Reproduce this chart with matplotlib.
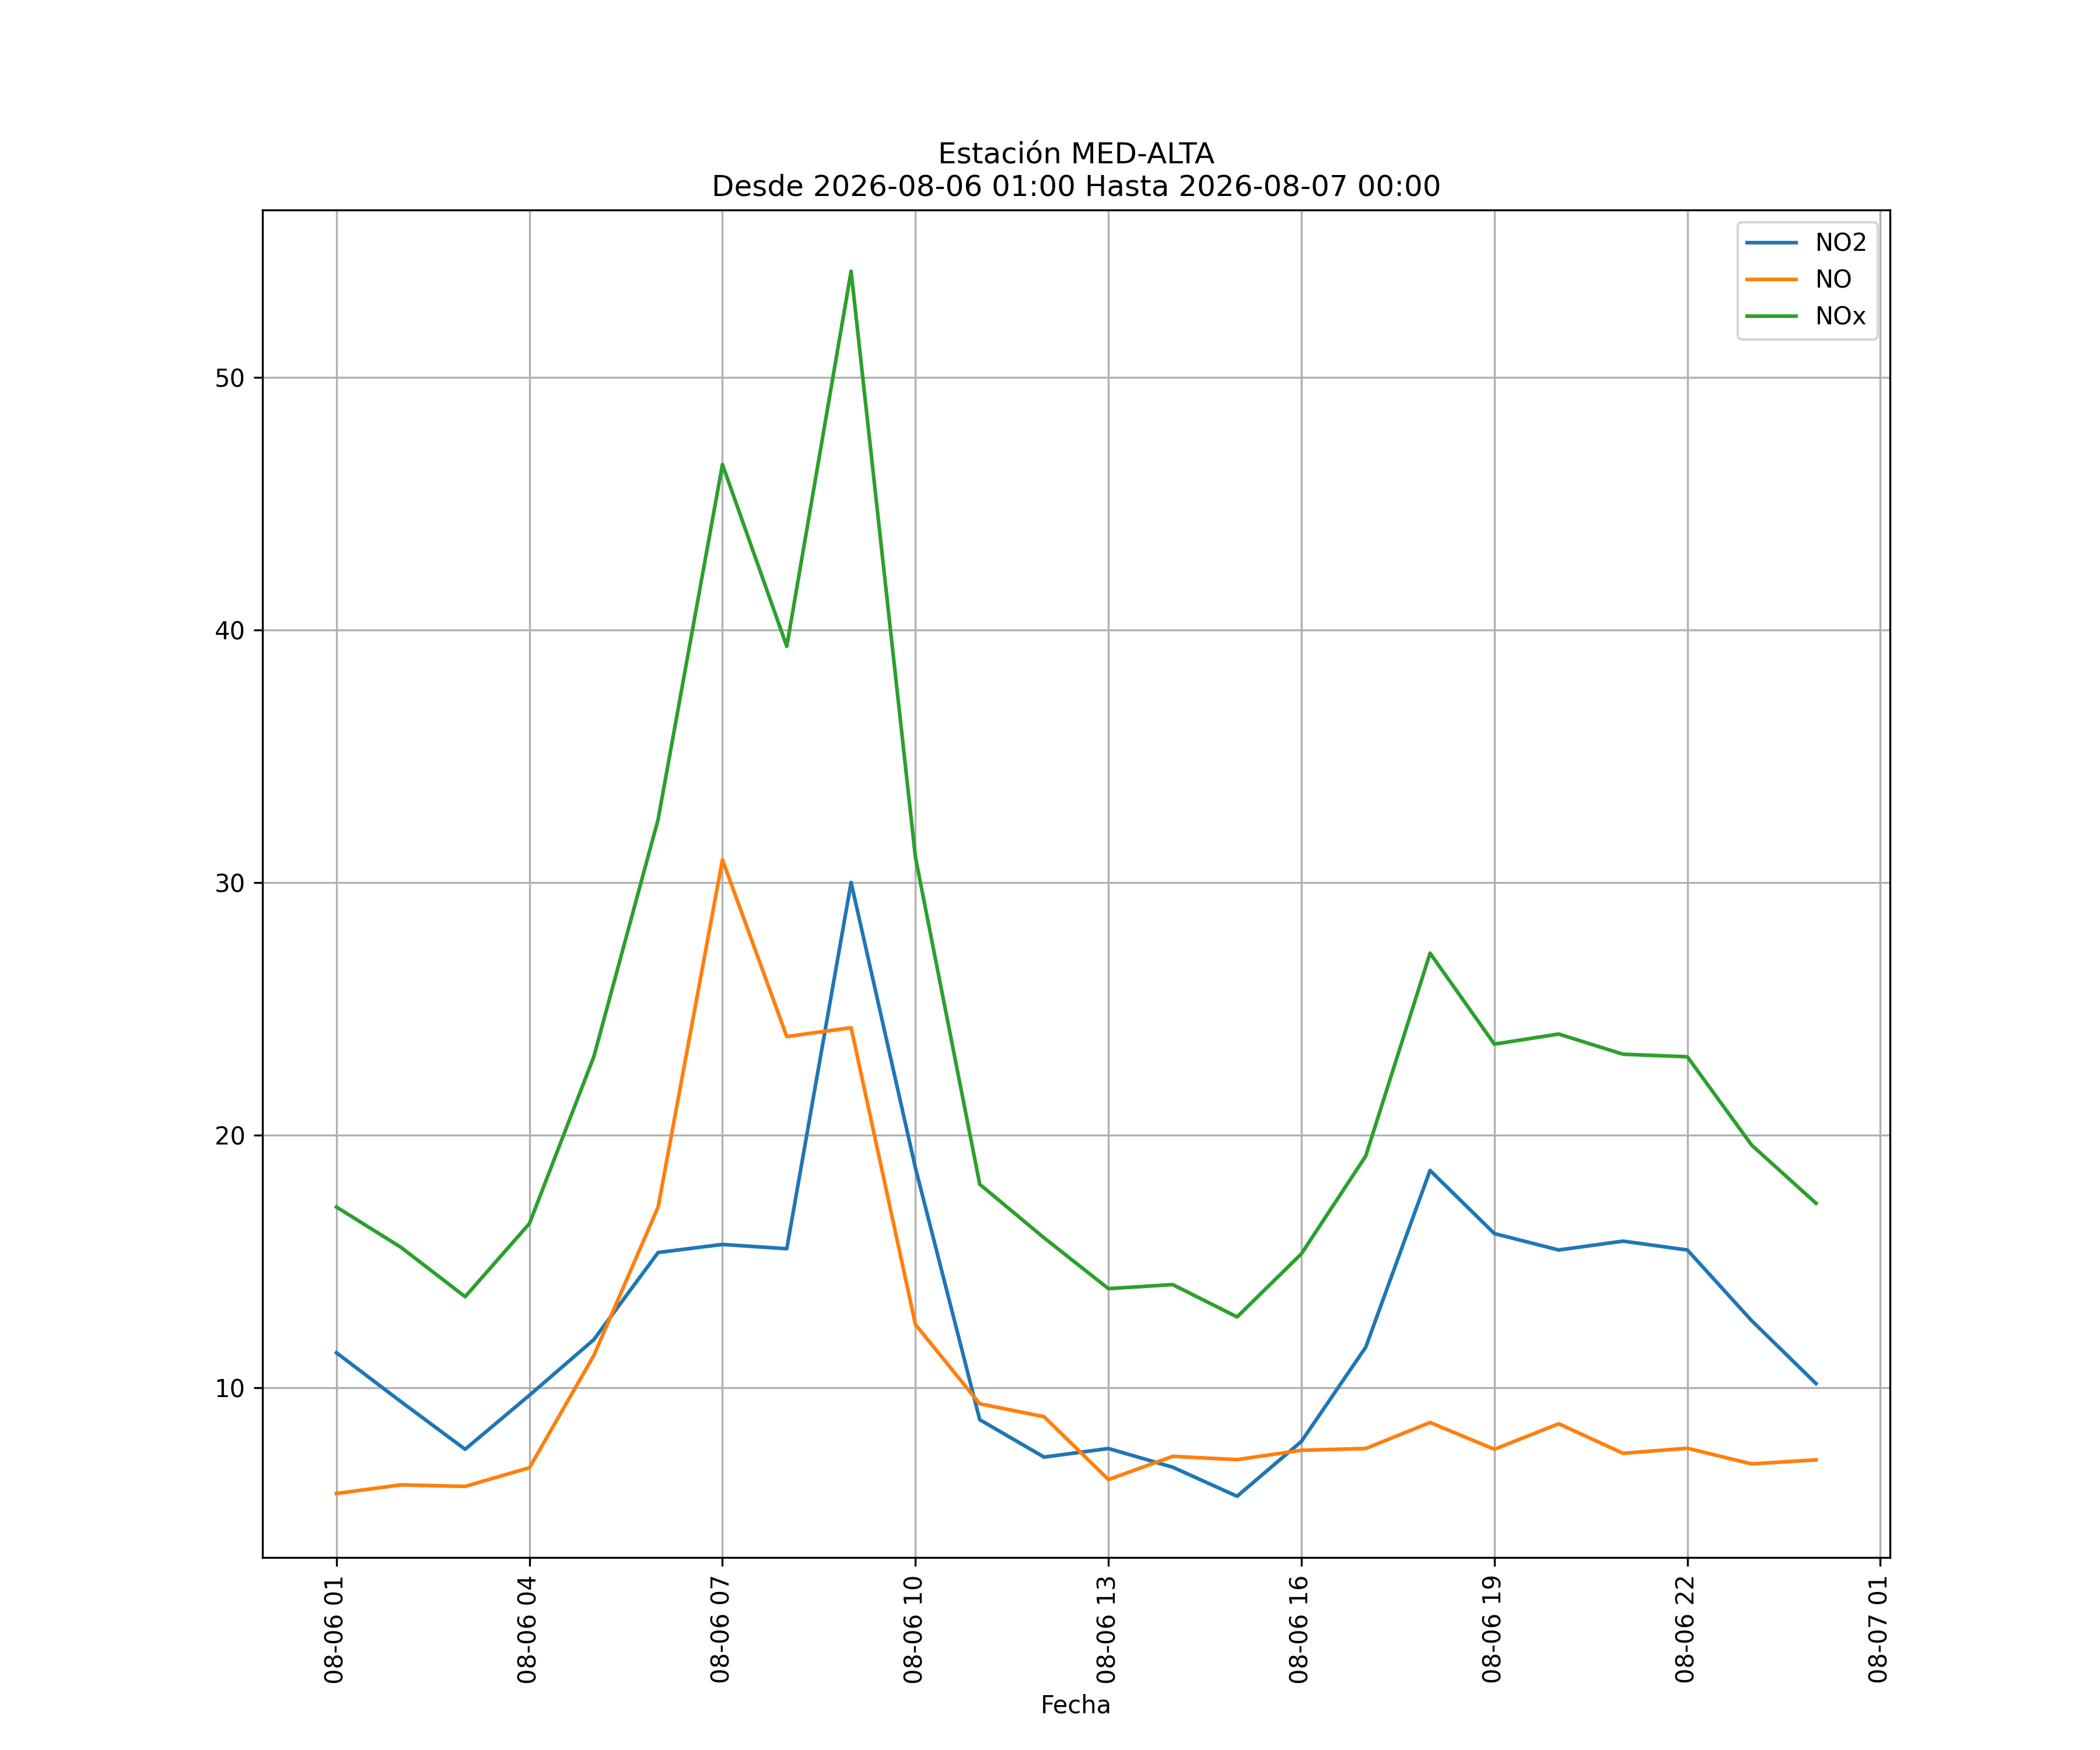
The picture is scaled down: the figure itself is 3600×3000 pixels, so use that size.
import pandas as pd
import matplotlib
matplotlib.use("Agg")
import matplotlib.pyplot as plt
import matplotlib.dates as mdates

fechas = pd.date_range("2026-08-06 01:00", "2026-08-07 00:00", freq="h")

no2 = [11.38, 9.45, 7.56, 9.7, 11.9, 15.35, 15.67, 15.5, 30.0, 18.7, 8.73, 7.25,
       7.59, 6.85, 5.7, 7.87, 11.6, 18.6, 16.1, 15.45, 15.8, 15.45, 12.65, 10.16]
no = [5.81, 6.15, 6.09, 6.83, 11.27, 17.15, 30.9, 23.9, 24.25, 12.5, 9.36, 8.85,
      6.36, 7.28, 7.15, 7.52, 7.59, 8.62, 7.56, 8.57, 7.4, 7.6, 6.98, 7.14]
nox = [17.15, 15.56, 13.6, 16.5, 23.1, 32.5, 46.55, 39.35, 54.2, 31.0, 18.05, 15.93,
       13.92, 14.08, 12.8, 15.3, 19.17, 27.2, 23.6, 24.0, 23.2, 23.1, 19.6, 17.3]

fig, ax = plt.subplots(figsize=(12, 10), dpi=300)

ax.plot(fechas, no2, label="NO2")
ax.plot(fechas, no, label="NO")
ax.plot(fechas, nox, label="NOx")

ax.xaxis.set_major_locator(mdates.HourLocator(byhour=range(1, 24, 3)))
ax.xaxis.set_major_formatter(mdates.DateFormatter("%m-%d %H"))
plt.setp(ax.get_xticklabels(), rotation=90)

ax.grid(True)
ax.legend(loc="upper right")
ax.set_xlabel("Fecha")
ax.set_title("Estación MED-ALTA\nDesde 2026-08-06 01:00 Hasta 2026-08-07 00:00")

fig.savefig("out.png")
